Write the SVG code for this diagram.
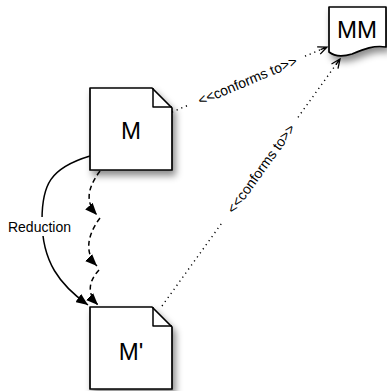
<svg xmlns="http://www.w3.org/2000/svg" width="387" height="391" viewBox="0 0 387 391">
<style>
.box{fill:#fff;stroke:#000;stroke-width:1.7;stroke-linejoin:round;filter:url(#sh)}
.fold{fill:none;stroke:#000;stroke-width:1.5;stroke-linejoin:round}
.big{font-family:"Liberation Sans",Arial,sans-serif;font-size:24px;text-anchor:middle;fill:#000}
.lbl{font-family:"Liberation Sans",Arial,sans-serif;font-size:14px;text-anchor:middle;fill:#000}
.dot{fill:none;stroke:#000;stroke-width:1.4;stroke-dasharray:1.2 3.8}
.dash{fill:none;stroke:#000;stroke-width:1.5;stroke-dasharray:5 3.5}
.solid{fill:none;stroke:#000;stroke-width:1.5}
</style>
<defs>
<filter id="sh" x="-20%" y="-20%" width="150%" height="150%">
<feDropShadow dx="3" dy="5" stdDeviation="3.5" flood-color="#000" flood-opacity="0.45"/>
</filter>
<marker id="fa" markerWidth="13" markerHeight="10" refX="12" refY="5" orient="auto" markerUnits="userSpaceOnUse">
<path d="M0,0 L12,5 L0,10 Z" fill="#000"/>
</marker>
<marker id="oa" markerWidth="12" markerHeight="10" refX="10" refY="5" orient="auto" markerUnits="userSpaceOnUse">
<path d="M1,1 L10,5 L1,9 M3,5 L10,5" fill="none" stroke="#000" stroke-width="1.3"/>
</marker>
</defs>

<g id="connectors">
<path class="dot" d="M172,112 L190,104.5"/>
<path class="dot" d="M305,56.2 L327,47" marker-end="url(#oa)"/>
<text class="lbl" x="247.5" y="80.5" dy="0.35em" transform="rotate(-22.75 247.5 80.5)">&lt;&lt;conforms to&gt;&gt;</text>
<path class="dot" d="M162,306 L223,221.4"/>
<path class="dot" d="M298,117.3 L340,59" marker-end="url(#oa)"/>
<text class="lbl" x="261" y="168.6" dy="0.35em" transform="rotate(-54.2 261 168.6)">&lt;&lt;conforms to&gt;&gt;</text>
<path class="solid" d="M90,156 C50,168 42,185 42,220 C42,262 60,285 88,305" marker-end="url(#fa)"/>
<rect x="5" y="217" width="70" height="19" fill="#fff"/>
<text class="lbl" x="39.5" y="232">Reduction</text>
<path class="dash" d="M100,171 C86,190 86,203 97,215" marker-end="url(#fa)"/>
<path class="dash" d="M100,218 C85,238 86,255 97,266" marker-end="url(#fa)"/>
<path class="dash" d="M99,270 C87,283 88,295 98,305" marker-end="url(#fa)"/>
</g>

<g id="M">
<path class="box" d="M90,88 H152 L172,108 V170 H90 Z"/>
<path class="fold" d="M153,88 V107 H172"/>
<text class="big" x="131" y="139">M</text>
</g>

<g id="Mprime">
<path class="box" d="M90,307 H152 L172,327 V389 H90 Z"/>
<path class="fold" d="M153,307 V326 H172"/>
<text class="big" x="131" y="360">M'</text>
</g>

<g id="MM">
<path class="box" d="M329,7 H386 V47 C374,45 364,49 352,54 C342,57 334,56 329,52 Z"/>
<text class="big" x="357" y="38">MM</text>
</g>
</svg>
